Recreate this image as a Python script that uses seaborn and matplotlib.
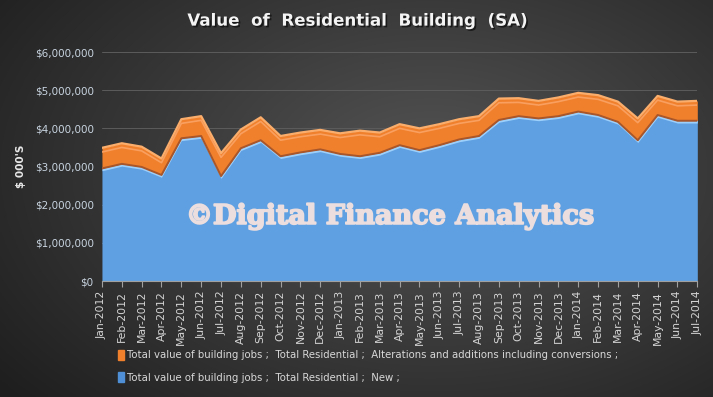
import numpy as np
import pandas as pd
import matplotlib
matplotlib.use('Agg')
import matplotlib.pyplot as plt
import matplotlib.patheffects as pe
from matplotlib.ticker import FuncFormatter
import seaborn as sns

months = ['Jan-2012', 'Feb-2012', 'Mar-2012', 'Apr-2012', 'May-2012', 'Jun-2012',
          'Jul-2012', 'Aug-2012', 'Sep-2012', 'Oct-2012', 'Nov-2012', 'Dec-2012',
          'Jan-2013', 'Feb-2013', 'Mar-2013', 'Apr-2013', 'May-2013', 'Jun-2013',
          'Jul-2013', 'Aug-2013', 'Sep-2013', 'Oct-2013', 'Nov-2013', 'Dec-2013',
          'Jan-2014', 'Feb-2014', 'Mar-2014', 'Apr-2014', 'May-2014', 'Jun-2014',
          'Jul-2014']

# $ 000's
new_res = [2950000, 3070000, 2990000, 2780000, 3740000, 3800000,
           2750000, 3480000, 3690000, 3270000, 3370000, 3450000,
           3330000, 3270000, 3360000, 3560000, 3430000, 3560000,
           3710000, 3800000, 4220000, 4320000, 4260000, 4320000,
           4440000, 4350000, 4170000, 3690000, 4350000, 4200000,
           4200000]
alterations = [540000, 540000, 530000, 430000, 500000, 520000,
               600000, 490000, 600000, 530000, 520000, 510000,
               540000, 670000, 530000, 550000, 570000, 550000,
               530000, 520000, 560000, 470000, 460000, 490000,
               490000, 520000, 530000, 570000, 500000, 500000,
               520000]

leg_alt = 'Total value of building jobs ;  Total Residential ;  Alterations and additions including conversions ;'
leg_new = 'Total value of building jobs ;  Total Residential ;  New ;'

df = pd.DataFrame({'month': months, 'new': new_res, 'alt': alterations})
df['idx'] = np.arange(len(df))
df['total'] = df['new'] + df['alt']

sns.set_style('dark')
plt.rcParams['font.family'] = ['DejaVu Sans']

fig = plt.figure(figsize=(7.13, 3.97), dpi=100)

# dark radial background
bg = fig.add_axes([0, 0, 1, 1], zorder=-10)
yy, xx = np.mgrid[0:397, 0:713]
r = np.sqrt(((xx - 430) / 520.0) ** 2 + ((yy - 170) / 330.0) ** 2)
shade = np.clip(0.33 - 0.2 * r, 0.12, 0.34)
bg.imshow(np.dstack([shade, shade, shade]), aspect='auto', extent=[0, 1, 0, 1])
bg.axis('off')

ax = fig.add_axes([0.143, 0.292, 0.835, 0.577])
ax.set_facecolor('none')

x = df['idx'].values
ax.fill_between(x, 0, df['new'], color='#5fa0e2', zorder=2, lw=0)
ax.fill_between(x, df['new'], df['total'], color='#f0802c', zorder=2, lw=0)
ax.fill_between(x, df['new'] - 60000, df['new'], color='#9dd0fb', zorder=3, lw=0)

sns.lineplot(data=df, x='idx', y='total', color='#fbae6c', lw=1.6, ax=ax, zorder=4)
sns.lineplot(data=df, x='idx', y='new', color='#a9562a', lw=1.4, ax=ax, zorder=4)
ax.plot(x, df['total'] - 110000, color='#f9a060', lw=1.2, zorder=4)

ax.set_xlim(0, len(months) - 1)
ax.set_ylim(0, 6000000)
ax.set_yticks(np.arange(0, 6000001, 1000000))
ax.yaxis.set_major_formatter(FuncFormatter(lambda v, p: '${:,.0f}'.format(v)))
ax.set_xticks(x)
ax.set_xticklabels(months, rotation=90, fontsize=7.8, color='#d4d4d4',
                   family='Liberation Sans Narrow')
ax.tick_params(axis='y', labelsize=7.5, labelcolor='#c8d4e0', length=0, pad=6)
ax.tick_params(axis='x', length=4, color='#a0a0a0', pad=3, bottom=True)
ax.grid(axis='y', color='#5c5c5c', lw=0.7, zorder=0)
ax.grid(axis='x', visible=False)
for s in ['top', 'right', 'left']:
    ax.spines[s].set_visible(False)
ax.spines['bottom'].set_color('#a0a0a0')
ax.set_xlabel('')
ax.set_ylabel("$ 000'S", fontsize=7.5, fontweight='bold', color='#e8e8e8', labelpad=6)

fig.text(0.5, 0.948, 'Value  of  Residential  Building  (SA)', ha='center', va='center',
         fontsize=12, fontweight='bold', color='#f4f4f4',
         path_effects=[pe.withSimplePatchShadow(offset=(1.2, -1.2), shadow_rgbFace='#111111', alpha=0.8)])

fig.text(0.547, 0.455, '©Digital Finance Analytics', ha='center', va='center',
         fontsize=19.5, fontweight='bold', family='DejaVu Serif', color='#ecdede',
         path_effects=[pe.withStroke(linewidth=1.3, foreground='#ecdede')])

# legend rows
fig.patches.append(plt.Rectangle((0.1655, 0.094), 0.0085, 0.025, transform=fig.transFigure,
                                 color='#f0802c', figure=fig))
fig.patches.append(plt.Rectangle((0.1655, 0.037), 0.0085, 0.025, transform=fig.transFigure,
                                 color='#4f8fd6', figure=fig))
fig.text(0.178, 0.106, leg_alt, fontsize=7.3, color='#d8d8d8', va='center', family='Liberation Sans Narrow')
fig.text(0.178, 0.049, leg_new, fontsize=7.3, color='#d8d8d8', va='center', family='Liberation Sans Narrow')

fig.savefig('out.png', dpi=100)
